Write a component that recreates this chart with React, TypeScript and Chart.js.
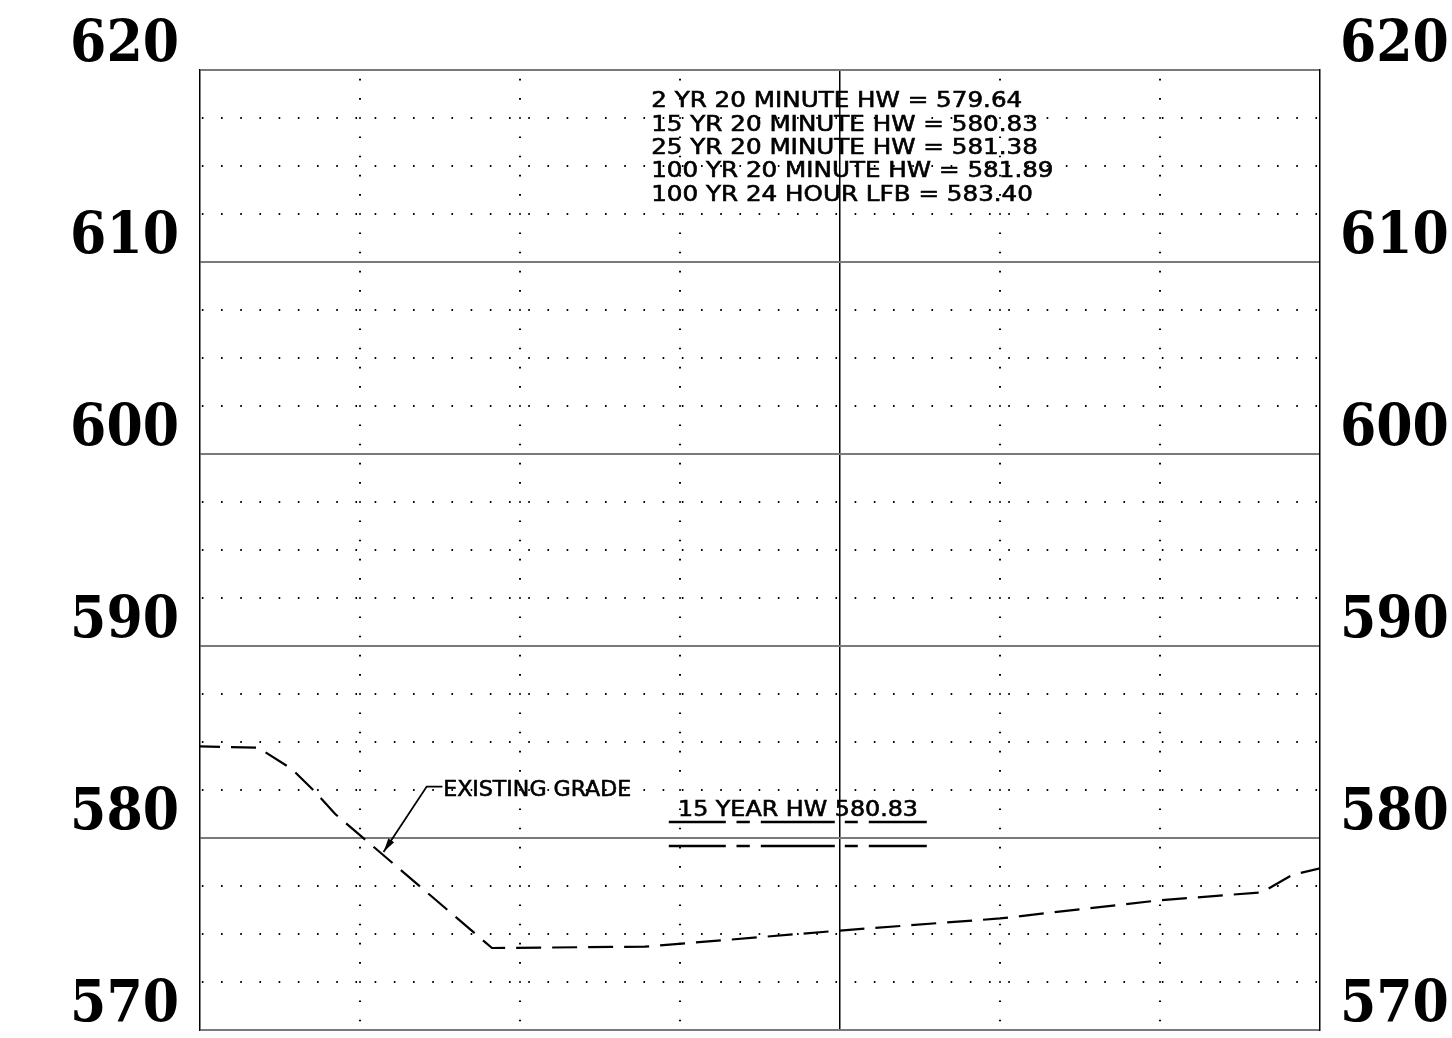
import React, { useEffect, useRef } from 'react';
import { Chart, registerables } from 'chart.js';

Chart.register(...registerables);

// ---- axes ----
const Y_MIN = 570;
const Y_MAX = 620;
const Y_MAJOR_STEP = 10;
const Y_MINOR_STEP = 2.5;
const X_MIN = 0;
const X_MAX = 140;
const X_STEP = 20;
const X_SOLID = 80;

// ---- existing grade profile ----
const GRADE_X = [0, 7.25, 11.5, 14.4, 16.9, 36.5, 55.6, 80, 100, 120, 132.75, 136.5, 140];
const GRADE_Y = [584.77, 584.71, 583.59, 582.4, 581.25, 574.27, 574.34, 575.18, 575.81, 576.76, 577.17, 578.07, 578.42];

// ---- 15 year headwater symbol ----
const HW_15YR = 580.83;
const HW_SYMBOL_LOWER = 579.58;
const HW_SYMBOL_X = [58.6, 90.85];

// ---- notes ----
const NOTES = [
  '2 YR 20 MINUTE HW = 579.64',
  '15 YR 20 MINUTE HW = 580.83',
  '25 YR 20 MINUTE HW = 581.38',
  '100 YR 20 MINUTE HW = 581.89',
  '100 YR 24 HOUR LFB = 583.40',
];
const HW_LABEL = '15 YEAR HW 580.83';
const GRADE_LABEL = 'EXISTING GRADE';

const LABEL_FONT = { family: "'DejaVu Serif Condensed', 'DejaVu Serif', serif", size: 58, weight: 'bold' };

const isMajor = (v: number) => Math.abs(v / Y_MAJOR_STEP - Math.round(v / Y_MAJOR_STEP)) < 1e-6;

const annotPlugin = {
  id: 'annot',
  afterDatasetsDraw(chart: any) {
    const { ctx } = chart;
    const xs = chart.scales.x;
    const ys = chart.scales.y;
    const px = (v: number) => xs.getPixelForValue(v);
    const py = (v: number) => ys.getPixelForValue(v);
    ctx.save();
    ctx.fillStyle = '#000';
    ctx.strokeStyle = '#000';
    ctx.font = '20.5px "DejaVu Sans"';
    ctx.textBaseline = 'alphabetic';
    ctx.textAlign = 'left';
    const text = (t: string, xv: number, yv: number, sx: number) => {
      ctx.save();
      ctx.translate(px(xv), py(yv));
      ctx.scale(sx, 1);
      ctx.lineWidth = 0.6;
      ctx.fillText(t, 0, 0);
      ctx.strokeText(t, 0, 0);
      ctx.restore();
    };
    const sxNotes = 371 / ctx.measureText(NOTES[0]).width;
    NOTES.forEach((t, i) => text(t, 56.4, 618.06 - i * 1.2153, sxNotes));
    text(HW_LABEL, 59.75, 581.15, 240 / ctx.measureText(HW_LABEL).width);
    text(GRADE_LABEL, 30.4, 582.2, 188 / ctx.measureText(GRADE_LABEL).width);

    // leader with arrow
    const a = { x: px(30.3), y: py(582.68) };
    const b = { x: px(28.34), y: py(582.68) };
    const c = { x: px(22.94), y: py(579.27) };
    ctx.lineWidth = 1.8;
    ctx.beginPath();
    ctx.moveTo(a.x, a.y);
    ctx.lineTo(b.x, b.y);
    ctx.lineTo(c.x, c.y);
    ctx.stroke();
    const ang = Math.atan2(c.y - b.y, c.x - b.x);
    const L = 14, W = 3.5;
    const bx = c.x - L * Math.cos(ang), by = c.y - L * Math.sin(ang);
    ctx.beginPath();
    ctx.moveTo(c.x, c.y);
    ctx.lineTo(bx + W * Math.sin(ang), by - W * Math.cos(ang));
    ctx.lineTo(bx - W * Math.sin(ang), by + W * Math.cos(ang));
    ctx.closePath();
    ctx.fill();
    ctx.restore();
  },
};

export default function App() {
  const ref = useRef<HTMLCanvasElement | null>(null);
  useEffect(() => {
    document.body.style.margin = '0';
    const canvas = ref.current!;
    const hwDash = [57, 10.7, 13.3, 11, 74, 10, 13, 11, 58, 60];
    const chart = new Chart(canvas, {
      type: 'line',
      data: {
        datasets: [
          {
            data: GRADE_X.map((x, i) => ({ x, y: GRADE_Y[i] })),
            borderColor: '#000',
            borderWidth: 2.2,
            borderDash: [25, 11],
            borderDashOffset: 5,
            pointRadius: 0,
            tension: 0,
            fill: false,
            xAxisID: 'x',
            yAxisID: 'y',
          },
          {
            data: HW_SYMBOL_X.map((x) => ({ x, y: HW_15YR })),
            borderColor: '#000',
            borderWidth: 2.6,
            borderDash: hwDash,
            borderCapStyle: 'butt',
            pointRadius: 0,
            fill: false,
            xAxisID: 'x',
            yAxisID: 'y',
          },
          {
            data: HW_SYMBOL_X.map((x) => ({ x, y: HW_SYMBOL_LOWER })),
            borderColor: '#000',
            borderWidth: 2.6,
            borderDash: hwDash,
            borderCapStyle: 'butt',
            pointRadius: 0,
            fill: false,
            xAxisID: 'x',
            yAxisID: 'y',
          },
        ],
      },
      options: {
        animation: false,
        responsive: false,
        devicePixelRatio: 1,
        layout: { padding: { top: 70, bottom: 8, left: 0, right: 0 } },
        plugins: { legend: { display: false }, tooltip: { enabled: false } },
        scales: {
          x: {
            type: 'linear',
            position: 'bottom',
            min: X_MIN,
            max: X_MAX,
            ticks: { display: false, stepSize: X_STEP },
            grid: {
              drawTicks: false,
              lineWidth: 1.5,
              color: (c: any) => (c.tick && c.tick.value === X_SOLID ? '#000' : 'rgba(0,0,0,0)'),
            },
            border: { display: false },
          },
          x2: {
            type: 'linear',
            position: 'bottom',
            min: X_MIN,
            max: X_MAX,
            ticks: { display: false, stepSize: X_STEP },
            grid: {
              drawTicks: false,
              lineWidth: 2,
              color: (c: any) =>
                c.tick && c.tick.value > X_MIN && c.tick.value < X_MAX && c.tick.value !== X_SOLID
                  ? '#000'
                  : 'rgba(0,0,0,0)',
            },
            border: { display: false, dash: [1.6, 17.6], dashOffset: 10.35 },
          },
          y: {
            type: 'linear',
            position: 'left',
            min: Y_MIN,
            max: Y_MAX,
            ticks: {
              stepSize: Y_MAJOR_STEP,
              padding: 21,
              labelOffset: -24,
              color: '#000',
              font: LABEL_FONT,
            },
            grid: { drawTicks: false, lineWidth: 2, color: '#7a7a7a' },
            border: { display: true, color: '#000', width: 1.5 },
            afterFit: (s: any) => {
              s.width = 200;
              s.paddingTop = 0;
              s.paddingBottom = 0;
            },
          },
          yDots: {
            type: 'linear',
            position: 'left',
            min: Y_MIN,
            max: Y_MAX,
            ticks: { display: false, stepSize: Y_MINOR_STEP },
            grid: {
              drawTicks: false,
              lineWidth: 2,
              color: (c: any) => (c.tick && !isMajor(c.tick.value) ? '#000' : 'rgba(0,0,0,0)'),
            },
            border: { display: false, dash: [1.6, 17.6], dashOffset: 17.35 },
            afterFit: (s: any) => {
              s.width = 0;
            },
          },
          y2: {
            type: 'linear',
            position: 'right',
            min: Y_MIN,
            max: Y_MAX,
            ticks: {
              stepSize: Y_MAJOR_STEP,
              padding: 20,
              labelOffset: -24,
              color: '#000',
              font: LABEL_FONT,
            },
            grid: { display: false, drawTicks: false },
            border: { display: true, color: '#000', width: 1.5 },
            afterFit: (s: any) => {
              s.width = 132;
              s.paddingTop = 0;
              s.paddingBottom = 0;
            },
          },
        },
      } as any,
      plugins: [annotPlugin],
    });
    return () => chart.destroy();
  }, []);
  return (
    <div style={{ width: 1452, height: 1038 }}>
      <canvas ref={ref} width={1452} height={1038} style={{ display: 'block', width: 1452, height: 1038 }} />
    </div>
  );
}
